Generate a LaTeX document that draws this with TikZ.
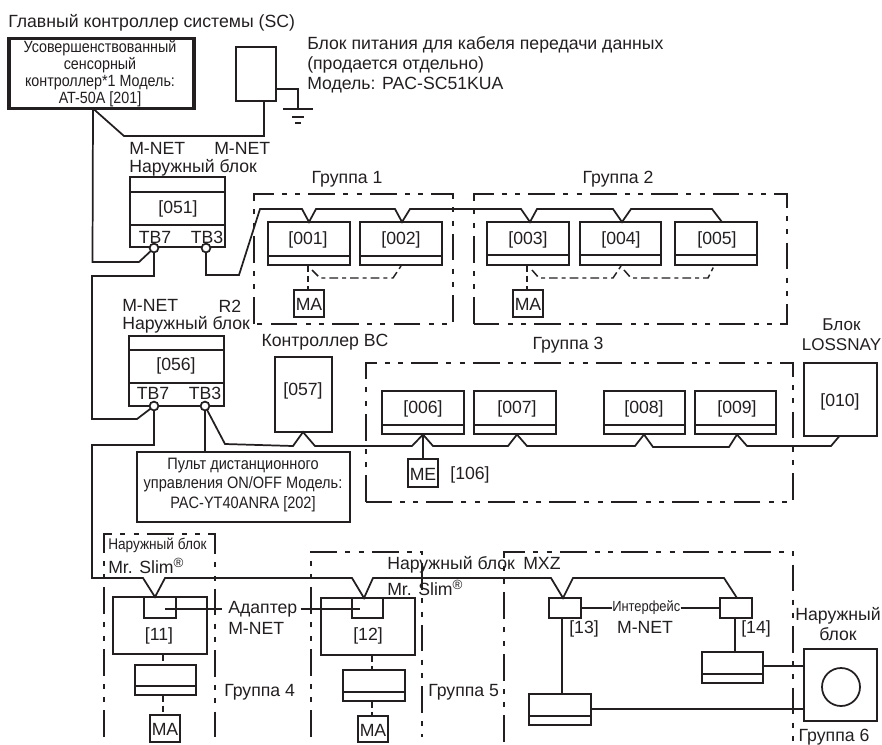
\documentclass[tikz,border=0pt]{standalone}
\usepackage{fontspec}
\setmainfont{Liberation Sans}
\newfontfamily\narrowf[FakeStretch=0.88]{Liberation Sans}
\usetikzlibrary{calc}
\definecolor{ink}{HTML}{231F20}
\newcommand\ubox[6][]{%
  \pgfmathsetmacro\ubw{(#5-#3)*0.75}\pgfmathsetmacro\ubh{(#6-#4)*0.75}%
  \node[unit,minimum width=\ubw pt,minimum height=\ubh pt,#1] (#2) at ({(#3+#5)/2},{(#4+#6)/2}) {};}
\newcommand\divline[2]{\draw[wire] (#1.west |- 0,#2) -- (#1.east |- 0,#2);}
\newcommand\regmark{\raisebox{4.2pt}{\fontsize{10pt}{10pt}\selectfont ®}}
\tikzset{
  unit/.style={draw=ink,line width=1.35pt,inner sep=0pt,outer sep=0pt,fill=white},
  wire/.style={draw=ink,line width=1.3pt,line join=miter},
  ctl/.style={draw=ink,line width=1.1pt,dash pattern=on 5pt off 3pt},
  dashdot/.style={draw=ink,line width=1.1pt,dash pattern=on 6.5pt off 3pt on 3pt off 3pt},
  grp/.style={draw=ink,line width=1.3pt,dash pattern=on 20pt off 6.2pt on 3.75pt off 6.2pt on 3.75pt off 6.2pt},
  txt/.style={text=ink,inner sep=0pt,align=center,font=\fontsize{13.25pt}{15pt}\selectfont},
  ltxt/.style={txt,anchor=west,align=left},
  small/.style={text=ink,inner sep=0pt,align=center,font=\narrowf\fontsize{12.2pt}{12.6pt}\selectfont},
  term/.style={circle,draw=ink,line width=1.3pt,fill=white,minimum size=6.6pt,inner sep=0pt,outer sep=0pt},
}
\begin{document}
\begin{tikzpicture}[x=0.75pt,y=-0.75pt]
\useasboundingbox (0,0) rectangle (882,744);
% group frames
\draw[grp] (254,324) -- (254,194) -- (453,194) -- (453,324) -- cycle;
\draw[grp] (474,324) -- (474,194) -- (787,194) -- (787,324) -- cycle;
\draw[grp] (366,502) -- (366,363) -- (793,363) -- (793,502) -- cycle;
\draw[grp] (104,737) -- (104,534) -- (215,534) -- (215,737);
\draw[grp] (311,737) -- (311,552) -- (422,552) -- (422,737);
\draw[grp] (504,742) -- (504,552) -- (793,552) -- (793,742);
% main controller
\ubox[line width=2.5pt]{sc}{9}{38.5}{194}{108.5}
\node[small] (sctext) at (100,73.5) {Усовершенствованный\\сенсорный\\контроллер*1 Модель:\\AT-50A [201]};
\node[ltxt] (sctitle) at (8,23) {Главный контроллер системы (SC)};
% power supply
\ubox{ps}{236}{47}{276}{101}
\node[ltxt] (pstext) at (307,65) {Блок питания для кабеля передачи данных\\(продается отдельно)\\Модель: PAC-SC51KUA};
\coordinate (gnd) at (298,109);
\draw[wire] (ps.east |- 0,89) -- (gnd |- 0,89) -- (gnd);
\draw[wire] (283,109) -- (313,109);
\draw[wire] (292,117) -- (304,117);
\draw[wire] (295,123) -- (301,123);
% outdoor 051
\ubox{o051}{130}{177}{225}{247}
\divline{o051}{192}\divline{o051}{225}
\node[txt] (t051) at (178,209) {[051]};
\node[txt] (tb7a) at (155,237) {TB7};
\node[txt] (tb3a) at (207,237) {TB3};
\node[term] (c7a) at (154,248) {};
\node[term] (c3a) at (206,248) {};
\node[ltxt] (mnet1) at (129,148) {M-NET};
\node[ltxt] (mnet2) at (214,148) {M-NET};
\node[ltxt] (oa) at (129,168) {Наружный блок};
% outdoor 056
\ubox{o056}{129}{336}{224}{406}
\divline{o056}{350}\divline{o056}{383}
\node[txt] (t056) at (176,366) {[056]};
\node[txt] (tb7b) at (153,393) {TB7};
\node[txt] (tb3b) at (205,393) {TB3};
\node[term] (c7b) at (154,406) {};
\node[term] (c3b) at (205,406) {};
\node[ltxt] (mnet3) at (122,305) {M-NET};
\node[ltxt] (ob) at (122,324.5) {Наружный блок};
\node[txt] (r2) at (230,306) {R2};
% BC controller
\ubox{bc}{275}{357}{332}{432}
\node[txt] (t057) at (303,391) {[057]};
\node[txt] (bct) at (325,342) {Контроллер BC};
% remote
\ubox{rem}{137}{452}{350}{522}
\node[small,font=\narrowf\fontsize{12.4pt}{14.6pt}\selectfont] (remt) at (243,485) {Пульт дистанционного\\управления ON/OFF Модель:\\PAC-YT40ANRA [202]};
% indoor units group 1,2
\ubox{u001}{268}{222}{350}{265}\divline{u001}{256}
\node[txt] (t001) at (308,240) {[001]};
\ubox{u002}{360}{222}{442}{265}\divline{u002}{256}
\node[txt] (t002) at (401,240) {[002]};
\ubox{u003}{487}{222}{569}{265}\divline{u003}{255}
\node[txt] (t003) at (528,240) {[003]};
\ubox{u004}{580}{222}{661}{265}\divline{u004}{255}
\node[txt] (t004) at (621,240) {[004]};
\ubox{u005}{675}{222}{757}{265}\divline{u005}{255}
\node[txt] (t005) at (717,240) {[005]};
\ubox{ma1}{294}{290}{324}{317}
\node[txt] (tma1) at (309,304) {MA};
\ubox{ma2}{513}{290}{543}{317}
\node[txt] (tma2) at (528,304) {MA};
\node[txt] (g1) at (347,179) {Группа 1};
\node[txt] (g2) at (618,179) {Группа 2};
% group 3
\ubox{u006}{382}{391}{464}{434}\divline{u006}{425}
\node[txt] (t006) at (423,409) {[006]};
\ubox{u007}{474}{391}{556}{434}\divline{u007}{425}
\node[txt] (t007) at (517,409) {[007]};
\ubox{u008}{604}{391}{685}{434}\divline{u008}{425}
\node[txt] (t008) at (644,409) {[008]};
\ubox{u009}{695}{391}{776}{434}\divline{u009}{425}
\node[txt] (t009) at (737,409) {[009]};
\ubox{u010}{804}{363}{877}{436}
\node[txt] (t010) at (840,402) {[010]};
\node[txt,font=\fontsize{12.8pt}{15pt}\selectfont] (lsn) at (841.5,335) {Блок\\LOSSNAY};
\node[txt] (g3) at (568,345) {Группа 3};
\ubox{me}{408}{459}{438}{487}
\node[txt] (tme) at (423,474) {ME};
\node[txt] (t106) at (470,475) {[106]};
% lower left groups
\ubox{u11}{113}{597}{207}{654}
\ubox{i11}{144}{597}{176}{618}
\node[txt] (t11) at (159,636) {[11]};
\ubox{s11}{135}{665}{196}{695}\divline{s11}{686}
\ubox{ma4}{150}{715}{180}{742}
\node[txt] (tma4) at (165,729) {MA};
\node[ltxt,font=\narrowf\fontsize{11.6pt}{12pt}\selectfont] (o4) at (108,545) {Наружный блок};
\node[ltxt] (sl4) at (108,566) {Mr. Slim\regmark};
\ubox{u12}{321}{598}{415}{655}
\ubox{i12}{352}{598}{383}{618}
\node[txt] (t12) at (368,636) {[12]};
\ubox{s12}{343}{670}{405}{701}\divline{s12}{692}
\ubox{ma5}{358}{716}{388}{742}
\node[txt] (tma5) at (373,730) {MA};
\node[ltxt] (o5) at (387,565) {Наружный блок};
\node[ltxt] (sl5) at (387,588) {Mr. Slim\regmark};
\node[ltxt] (ad1) at (228,609) {Адаптер};
\node[ltxt] (ad2) at (228,628) {M-NET};
\node[ltxt] (g4) at (224,692) {Группа 4};
\node[ltxt] (g5) at (428,692) {Группа 5};
% MXZ group
\node[ltxt] (mxz) at (523,563) {MXZ};
\ubox{i13}{549}{598}{581}{618}
\ubox{i14}{720}{598}{752}{618}
\node[txt] (t13) at (584,629) {[13]};
\node[txt] (t14) at (756,629) {[14]};
\node[ltxt,font=\narrowf\fontsize{11pt}{12pt}\selectfont] (if1) at (612,608) {Интерфейс};
\node[txt] (if2) at (645,627) {M-NET};
\ubox{s13}{529}{694}{591}{725}\divline{s13}{716}
\ubox{s14}{702}{652}{763}{683}\divline{s14}{674}
\ubox{out}{804}{649}{877}{721}
\node[circle,draw=ink,line width=1.3pt,minimum size=28.5pt,inner sep=0pt] (fan) at (841,687) {};
\node[txt] (outt) at (838,624) {Наружный\\блок};
\node[txt] (g6) at (834,737) {Группа 6};
% M-NET wiring
\coordinate (scb) at (93,108.5);
\draw[wire] (scb) -- (124,136) -- (264,136) -- (ps.south -| 264,0);
\draw[wire] (scb) -- (92.5,262) -- (139,262) -- (c7a);
\draw[wire] (c7a) -- (154,276) -- (92,276) -- (92,419) -- (137,419) -- (c7b);
\draw[wire] (c7b) -- (154,445) -- (92,445) -- (92,578) -- (143,578) -- (155,597)
   -- (165,578) -- (352,578) -- (364,598) -- (373,578) -- (551,578) -- (563,598) -- (573,578) -- (724,578) -- (737,598);
% TB3 upper
\draw[wire] (c3a) -- (206,275) -- (239,275) -- (260,209) -- (302,209) -- (309,222) -- (316,209)
   -- (395,209) -- (402,222) -- (410,209) -- (521,209) -- (530,222) -- (537,209) -- (613,209)
   -- (622,222) -- (631,209) -- (712,209) -- (722,222);
% TB3 lower
\draw[wire] (c3b) -- (205,452);
\draw[wire] (c3b) -- (225,444) -- (293,446) -- (bc.south -| 303,0) -- (315,446) -- (412,446) -- (423,434.5)
   -- (433,446) -- (508,446) -- (517,434.5) -- (527,446) -- (635,446) -- (644,434.5) -- (653,447)
   -- (729,447) -- (737,434.5) -- (747,446) -- (831,446) -- (839,436.5);
\draw[wire] (423,434) -- (me.north -| 423,0);
% remote-controller links
\draw[ctl] (u001.south -| 308,0) -- (ma1.north -| 308,0);
\draw[dashdot] (312,270) -- (320,278) -- (393,278) -- (401,266);
\draw[ctl] (u003.south -| 527,0) -- (ma2.north -| 527,0);
\draw[dashdot] (532,270) -- (539,278) -- (613,278) -- (621,266);
\draw[dashdot] (624,270) -- (631,278) -- (708,278) -- (714,266);
\draw[ctl] (u11.south -| 163,0) -- (s11.north -| 163,0);
\draw[ctl] (s11.south -| 163,0) -- (ma4.north -| 163,0);
\draw[ctl] (u12.south -| 372,0) -- (s12.north -| 372,0);
\draw[ctl] (s12.south -| 372,0) -- (ma5.north -| 372,0);
% adapters and interfaces
\draw[wire] (165,609) -- (222,609);
\draw[wire] (ad1.east |- 0,609) ++(3,0) -- (360,609);
\draw[wire] (i13.east) -- (if1.west);
\draw[wire] (if1.east) -- (i14.west);
\draw[wire] (i13.south -| 562,0) -- (s13.north -| 562,0);
\draw[wire] (i14.south -| 735,0) -- (s14.north -| 735,0);
\draw[wire] (s14.east |- 0,666) -- (out.west |- 0,666);
\draw[wire] (s13.east |- 0,709) -- (out.west |- 0,709);
\end{tikzpicture}
\end{document}
